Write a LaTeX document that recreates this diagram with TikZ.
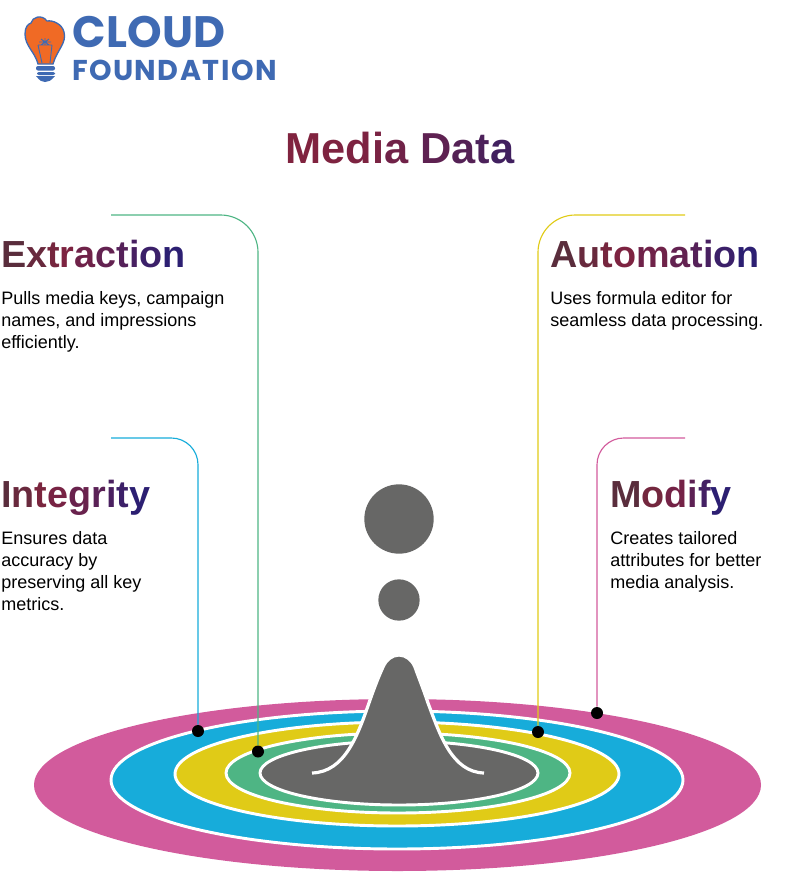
\documentclass[tikz,border=0pt]{standalone}
\usepackage{fontspec}
\usepackage{xcolor}
\usepackage{tikz}
\setmainfont{Liberation Sans}
\newfontfamily\logofont[LetterSpace=0.8]{Poppins}
\newfontfamily\logofontb[LetterSpace=5]{Poppins}
\definecolor{gradstart}{HTML}{5A2D3C}
\definecolor{gradmid}{HTML}{80233F}
\definecolor{gradend}{HTML}{2C1F72}
\definecolor{logoblue}{HTML}{3F6AB3}
\definecolor{logoorange}{HTML}{F06A25}
\definecolor{dropgray}{HTML}{676766}
\definecolor{ringpink}{HTML}{D25B9C}
\definecolor{ringblue}{HTML}{17ACDA}
\definecolor{ringyellow}{HTML}{E0CB17}
\definecolor{ringgreen}{HTML}{4EB584}
% one colour per letter, #1 is the number of letters
\newcommand{\gradword}[2]{\foreach \ch [count=\n] in {#2}{\pgfmathtruncatemacro{\pos}{100*(\n-1)/(#1-1)}\ifnum\pos<30\pgfmathtruncatemacro{\w}{\pos*100/30}\colorlet{lettercol}{gradmid!\w!gradstart}\else\pgfmathtruncatemacro{\w}{(\pos-30)*100/70}\colorlet{lettercol}{gradend!\w!gradmid}\fi\textcolor{lettercol}{\ch}}}
\tikzset{
	heading/.style={anchor=base west,inner sep=0pt,font=\fontsize{28.3}{30}\selectfont\bfseries},
	body/.style={anchor=north west,inner sep=0pt,align=left,font=\fontsize{13.5}{16.5}\selectfont},
	dot/.style={circle,fill=black,inner sep=0pt,minimum size=9pt},
	leader/.style={line width=0.85pt},
	ring/.style={draw=white,line width=2.2pt},
	bulb/.style={draw=logoblue,line width=1pt}
}
\begin{document}
\begin{tikzpicture}[x=0.75pt,y=-0.75pt]
\useasboundingbox (0,0) rectangle (800,879);
% logo
\draw[bulb,fill=logoorange] (38,64) .. controls (35,52) and (25,46) .. (25,34) .. controls (25,27) and (28,24) .. (31,23) .. controls (32,17) and (42,14) .. (47,21) .. controls (53,20) and (62,24) .. (64,32) .. controls (67,43) and (57,50) .. (53,64) -- cycle;
\draw[logoblue,line width=0.7pt] (38,45) -- (42,63) (52,45) -- (50,63) (38,45) -- (52,45) (39,42) -- (51,42) (45,38) -- (45,45) (41,39) -- (49,45) (49,39) -- (41,45);
\fill[logoblue,rounded corners=1.5pt] (36,66) rectangle (55,70.5);
\fill[logoblue,rounded corners=1.5pt] (37,72) rectangle (55,75);
\fill[logoblue] (36,76) .. controls (40,81) and (42,82) .. (45,82) .. controls (48,82) and (51,81) .. (55,76) -- cycle;
\node[anchor=base west,inner sep=0pt,text=logoblue,font=\logofont\fontsize{33}{33}\selectfont\bfseries] (logotop) at (72,47.5) {CLOUD};
\node[anchor=base west,inner sep=0pt,text=logoblue,font=\logofontb\fontsize{21.5}{21.5}\selectfont\bfseries] (logobottom) at (72,80) {FOUNDATION};
% title
\node[anchor=base,inner sep=0pt,font=\fontsize{32.5}{36}\selectfont\bfseries] (title) at (400,163) {\colorlet{gradstart}{gradmid}\definecolor{gradmid}{HTML}{7C2342}\definecolor{gradend}{HTML}{41205F}\gradword{10}{M,e,d,i,a,{~},D,a,t,a}};
% rings
\fill[ringpink] (397.5,785) ellipse [x radius=363.5,y radius=86];
\draw[ring,fill=ringblue] (397,780) ellipse [x radius=286,y radius=69];
\draw[ring,fill=ringyellow] (397,774) ellipse [x radius=222,y radius=52];
\draw[ring,fill=ringgreen] (398,773) ellipse [x radius=172,y radius=40];
\draw[ring,fill=dropgray] (399,773) ellipse [x radius=139,y radius=32];
% drop
\draw[white,fill=dropgray,line width=2.4pt] (312,773) .. controls (345,772) and (358,735) .. (370,700) .. controls (376,683) and (379,676) .. (383,667) .. controls (386,660) and (392,655) .. (399,655) .. controls (406,655) and (412,660) .. (415,667) .. controls (418,676) and (422,685) .. (428,703) .. controls (440,735) and (452,772) .. (484,773);
\node[circle,fill=dropgray,inner sep=0pt,minimum size=52pt] (bigdrop) at (399,519) {};
\node[circle,fill=dropgray,inner sep=0pt,minimum size=31pt] (smalldrop) at (399,600) {};
% leaders
\foreach \name/\sx/\sy/\dx/\dy/\col/\rad in {extract/111/215/258/751.5/ringgreen/28pt,integ/111/438/198/731/ringblue/20pt,auto/685/215/538/732/ringyellow/28pt,modif/685/438/597/713/ringpink/20pt}{
\coordinate (\name start) at (\sx,\sy);
\node[dot] (\name dot) at (\dx,\dy) {};
\draw[leader,rounded corners=\rad,\col] (\name start) -| (\name dot);
}
% labels
\node[heading] (extract) at (1,267) {\gradword{10}{E,x,t,r,a,c,t,i,o,n}};
\node[body] (extracttxt) at (1,291.5) {Pulls media keys, campaign\\names, and impressions\\efficiently.};
\node[heading] (integ) at (1,507) {\gradword{9}{I,n,t,e,g,r,i,t,y}};
\node[body] (integtxt) at (1,531.5) {Ensures data\\accuracy by\\preserving all key\\metrics.};
\node[heading] (auto) at (550,267) {\gradword{10}{A,u,t,o,m,a,t,i,o,n}};
\node[body] (autotxt) at (550,291.5) {Uses formula editor for\\seamless data processing.};
\node[heading] (modif) at (610,507) {\gradword{6}{M,o,d,i,f,y}};
\node[body] (modiftxt) at (610,531.5) {Creates tailored\\attributes for better\\media analysis.};
\end{tikzpicture}
\end{document}
